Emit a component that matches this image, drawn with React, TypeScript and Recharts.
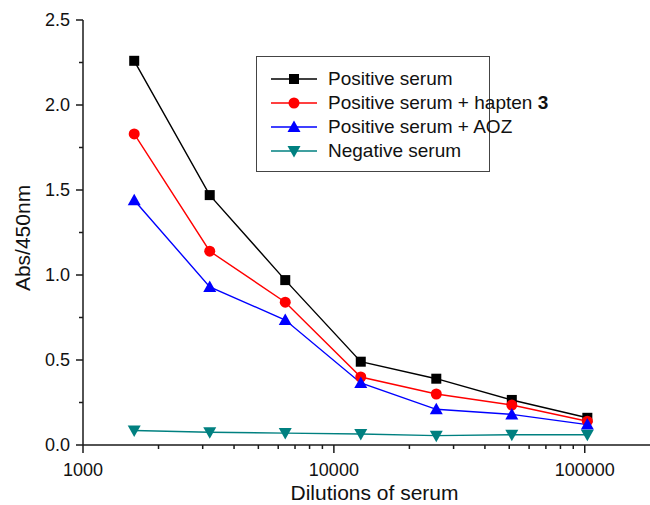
import { LineChart, Line, XAxis, YAxis, Legend } from 'recharts'

const dilutions = [1600, 3200, 6400, 12800, 25600, 51200, 102400]
const positive = [2.26, 1.47, 0.97, 0.49, 0.39, 0.265, 0.16]
const hapten = [1.83, 1.14, 0.84, 0.40, 0.30, 0.235, 0.14]
const aoz = [1.44, 0.93, 0.735, 0.365, 0.21, 0.18, 0.12]
const negative = [0.085, 0.075, 0.07, 0.065, 0.055, 0.06, 0.06]

const xMajor = [1000, 10000, 100000]
const xTicks = [
  1000, 2000, 3000, 4000, 5000, 6000, 7000, 8000, 9000,
  10000, 20000, 30000, 40000, 50000, 60000, 70000, 80000, 90000,
  100000,
]
const yTicks = [0, 0.25, 0.5, 0.75, 1, 1.25, 1.5, 1.75, 2, 2.25, 2.5]

const FONT = 'Arial, "Liberation Sans", sans-serif'
const AXIS = '#1a1a1a'

const chartData = dilutions.map((d, i) => ({
  dilution: d,
  positive: positive[i],
  hapten: hapten[i],
  aoz: aoz[i],
  negative: negative[i],
}))

type Marker = 'square' | 'circle' | 'up' | 'down'

function markerShape(kind: Marker, cx: number, cy: number, color: string, key?: string | number) {
  if (kind === 'square') return <rect key={key} x={cx - 5} y={cy - 5} width={10} height={10} fill={color} />
  if (kind === 'circle') return <circle key={key} cx={cx} cy={cy} r={5.5} fill={color} />
  if (kind === 'up')
    return <polygon key={key} points={`${cx},${cy - 6.5} ${cx - 6.5},${cy + 5} ${cx + 6.5},${cy + 5}`} fill={color} />
  return <polygon key={key} points={`${cx},${cy + 6.5} ${cx - 6.5},${cy - 5} ${cx + 6.5},${cy - 5}`} fill={color} />
}

const SERIES: { key: string; color: string; marker: Marker; label: React.ReactNode }[] = [
  { key: 'positive', color: '#000000', marker: 'square', label: 'Positive serum' },
  { key: 'hapten', color: '#ff0000', marker: 'circle', label: <>Positive serum + hapten <b>3</b></> },
  { key: 'aoz', color: '#0000ff', marker: 'up', label: 'Positive serum + AOZ' },
  { key: 'negative', color: '#008080', marker: 'down', label: 'Negative serum' },
]

function XTick(props: any) {
  const { x, y, payload } = props
  const major = xMajor.includes(payload.value)
  return (
    <g>
      <line x1={x} y1={y} x2={x} y2={y + (major ? 8 : 4)} stroke={AXIS} strokeWidth={1.5} />
      {major && (
        <text x={x} y={y + 25} textAnchor="middle" dominantBaseline="central" fontSize={18} fontFamily={FONT} fill="#111">
          {payload.value}
        </text>
      )}
    </g>
  )
}

function YTick(props: any) {
  const { x, y, payload } = props
  const major = Math.abs((payload.value * 2) % 1) < 1e-6
  return (
    <g>
      <line x1={x} y1={y} x2={x - (major ? 7 : 4)} y2={y} stroke={AXIS} strokeWidth={1.5} />
      {major && (
        <text x={x - 13} y={y} textAnchor="end" dominantBaseline="central" fontSize={18} fontFamily={FONT} fill="#111">
          {payload.value.toFixed(1)}
        </text>
      )}
    </g>
  )
}

function LegendBox() {
  return (
    <div
      style={{
        boxSizing: 'border-box',
        width: 234,
        height: 116,
        border: '1.5px solid #444',
        background: '#fff',
        paddingTop: 10,
        fontFamily: FONT,
        fontSize: 19,
        color: '#111',
      }}
    >
      {SERIES.map(s => (
        <div key={s.key} style={{ display: 'flex', alignItems: 'center', height: 24, paddingLeft: 14 }}>
          <svg width={46} height={24} style={{ flex: 'none' }}>
            <line x1={0} y1={12} x2={46} y2={12} stroke={s.color} strokeWidth={1.4} />
            {markerShape(s.marker, 23, 12, s.color)}
          </svg>
          <span style={{ marginLeft: 11, whiteSpace: 'nowrap', lineHeight: '24px' }}>{s.label}</span>
        </div>
      ))}
    </div>
  )
}

export default function App() {
  return (
    <div style={{ width: 650, height: 505, background: '#fff' }}>
      <style>{'body{margin:0}'}</style>
      <LineChart width={650} height={505} data={chartData} margin={{ top: 20, right: 0, left: 0, bottom: 0 }}>
        <XAxis
          dataKey="dilution"
          type="number"
          scale="log"
          domain={[1000, 182000]}
          allowDataOverflow
          ticks={xTicks}
          interval={0}
          height={60}
          tickSize={0}
          tickMargin={0}
          tickLine={false}
          tick={<XTick />}
          stroke={AXIS}
          strokeWidth={1.5}
          label={{
            value: 'Dilutions of serum',
            position: 'insideBottom',
            offset: 5,
            dx: 8,
            fontSize: 21,
            fontFamily: FONT,
            fill: '#111',
          }}
        />
        <YAxis
          type="number"
          domain={[0, 2.5]}
          ticks={yTicks}
          interval={0}
          width={83}
          tickSize={0}
          tickMargin={0}
          tickLine={false}
          tick={<YTick />}
          stroke={AXIS}
          strokeWidth={1.5}
          label={{
            content: () => (
              <text
                x={22}
                y={238}
                transform="rotate(-90 22 238)"
                textAnchor="middle"
                dominantBaseline="central"
                fontSize={21}
                fontFamily={FONT}
                fill="#111"
              >
                Abs/450nm
              </text>
            ),
          }}
        />
        <Legend
          layout="horizontal"
          verticalAlign="middle"
          align="center"
          content={<LegendBox />}
          wrapperStyle={{ left: 256, top: 56, width: 234, height: 116 }}
        />
        {SERIES.map(s => (
          <Line
            key={s.key}
            dataKey={s.key}
            stroke={s.color}
            strokeWidth={1.4}
            isAnimationActive={false}
            dot={(p: any) => markerShape(s.marker, p.cx, p.cy, s.color, p.index)}
            activeDot={false}
          />
        ))}
      </LineChart>
    </div>
  )
}
